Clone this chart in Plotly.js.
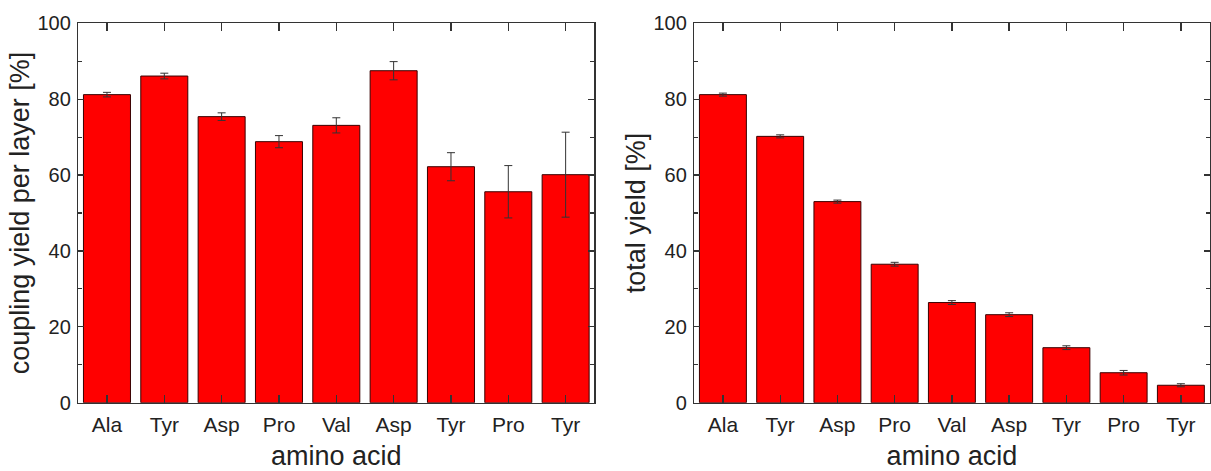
<!DOCTYPE html>
<html>
<head>
<meta charset="utf-8">
<script src="https://cdn.plot.ly/plotly-3.0.1.min.js"></script>
<style>html,body{margin:0;padding:0;background:#fff;}#chart{width:1211px;height:471px;}</style>
</head>
<body>
<div id="chart"></div>
<script>
const categories = ["Ala", "Tyr", "Asp", "Pro", "Val", "Asp", "Tyr", "Pro", "Tyr"];
const couplingYield = [81.2, 86.1, 75.4, 68.8, 73.1, 87.5, 62.2, 55.6, 60.1];
const couplingError = [0.6, 0.75, 1.0, 1.6, 2.0, 2.4, 3.7, 6.9, 11.2];
const totalYield = [81.2, 70.2, 53.0, 36.5, 26.4, 23.2, 14.5, 7.9, 4.6];
const totalError = [0.4, 0.4, 0.4, 0.5, 0.5, 0.5, 0.5, 0.6, 0.4];
const yTickVals = [0, 20, 40, 60, 80, 100];

const positions = categories.map((c, i) => i);
const FONT = "Liberation Sans, Arial, Helvetica, sans-serif";
const AX = "#333333";

function barTrace(y, err, xa, ya) {
  return {
    type: "bar", x: positions, y: y, xaxis: xa, yaxis: ya,
    marker: {color: "#ff0000", line: {color: "#3a0000", width: 1}},
    error_y: {type: "data", array: err, visible: true, color: "#333333", thickness: 1, width: 4},
    hoverinfo: "x+y", showlegend: false
  };
}

function xAxis(domain, anchor) {
  return {
    domain: domain, anchor: anchor, range: [-0.5, 8.5],
    tickmode: "array", tickvals: positions, ticktext: categories,
    ticks: "inside", ticklen: 8, tickwidth: 1.3, tickcolor: AX,
    showline: true, linecolor: AX, linewidth: 1.5, mirror: "allticks",
    showgrid: false, zeroline: false, automargin: false,
    ticklabelstandoff: 3,
    tickfont: {family: FONT, size: 21, color: "#222"},
    title: {text: "amino acid", font: {family: FONT, size: 27, color: "#222"}, standoff: 12}
  };
}

function yAxis(domain, anchor, title) {
  return {
    domain: domain, anchor: anchor, range: [0, 100],
    tickmode: "array", tickvals: yTickVals,
    ticks: "inside", ticklen: 6, tickwidth: 1.3, tickcolor: AX,
    minor: {dtick: 10, ticks: "inside", ticklen: 4, tickwidth: 1.2, tickcolor: AX, showgrid: false},
    showline: true, linecolor: AX, linewidth: 1.5, mirror: "allticks",
    showgrid: false, zeroline: false, automargin: false,
    ticklabelstandoff: 2,
    tickfont: {family: FONT, size: 20, color: "#222"},
    title: {text: title, font: {family: FONT, size: 27, color: "#222"}, standoff: 0}
  };
}

const yDom = [(471 - 402.7) / 471, (471 - 23.3) / 471];
const data = [
  barTrace(couplingYield, couplingError, "x", "y"),
  barTrace(totalYield, totalError, "x2", "y2")
];
const layout = {
  width: 1211, height: 471,
  margin: {l: 0, r: 0, t: 0, b: 0},
  paper_bgcolor: "#ffffff", plot_bgcolor: "#ffffff",
  bargap: 0.18,
  font: {family: FONT, color: "#222"},
  xaxis: xAxis([78.3 / 1211, 594.3 / 1211], "y"),
  yaxis: yAxis(yDom, "x", "coupling yield per layer [%]"),
  xaxis2: xAxis([694.3 / 1211, 1209.5 / 1211], "y2"),
  yaxis2: yAxis(yDom, "x2", "total yield [%]")
};
Plotly.newPlot("chart", data, layout, {displayModeBar: false, staticPlot: true});
</script>
</body>
</html>
